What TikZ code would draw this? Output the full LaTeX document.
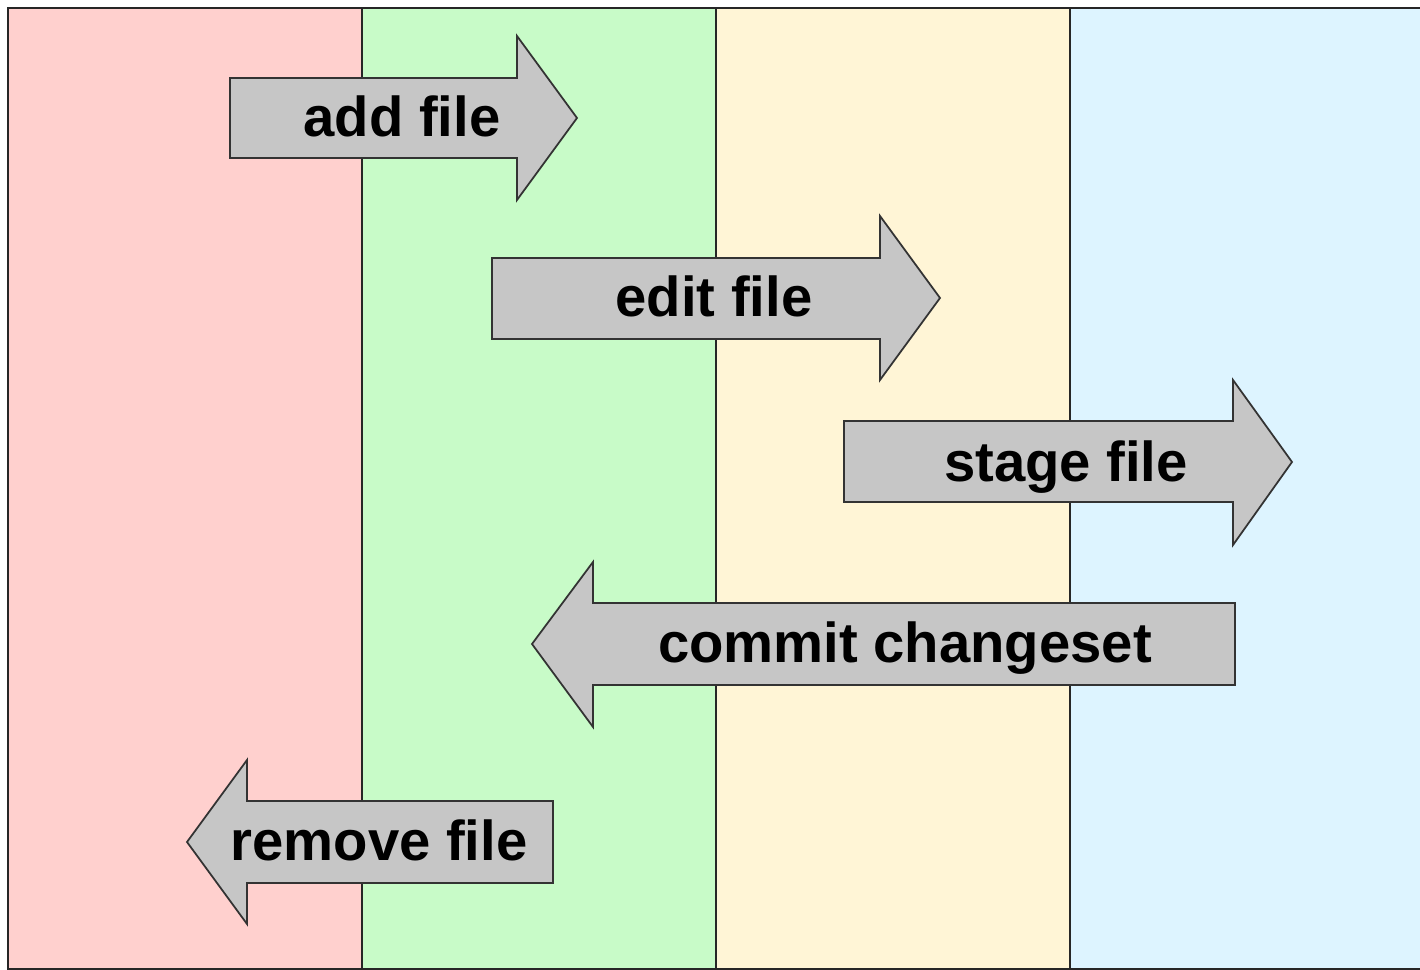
\documentclass[tikz,border=0pt]{standalone}
\usepackage{fontspec}
\setmainfont{Liberation Sans}
\usepackage{tikz}
\usetikzlibrary{positioning}

\definecolor{lanered}{HTML}{FFD0CE}
\definecolor{lanegreen}{HTML}{C8FBC8}
\definecolor{laneyellow}{HTML}{FFF5D6}
\definecolor{laneblue}{HTML}{DDF4FF}
\definecolor{arrowgray}{HTML}{C6C6C6}
\definecolor{edgegray}{HTML}{333333}

\tikzset{
  lane/.style={draw=black!85, line width=0.6pt},
  bigarrow/.style={draw=edgegray, line width=0.5pt, fill=arrowgray, line join=miter},
  arrowlabel/.style={font=\fontsize{16}{19}\selectfont\bfseries, inner sep=0pt, anchor=base}
}

\begin{document}
\begin{tikzpicture}
\useasboundingbox (0,0) rectangle (14.2,9.7);
\clip (0,0) rectangle (14.2,9.7);

% lanes
\draw[lane, fill=lanered] (0.08,0.01) rectangle (3.62,9.62);
\draw[lane, fill=lanegreen] (3.62,0.01) rectangle (7.16,9.62);
\draw[lane, fill=laneyellow] (7.16,0.01) rectangle (10.70,9.62);
\draw[lane, fill=laneblue] (10.70,0.01) rectangle (14.40,9.62);

% right-pointing arrows
\draw[bigarrow] (2.30,8.92) -- (5.17,8.92) -- (5.17,9.34) -- (5.77,8.52) -- (5.17,7.70) -- (5.17,8.12) -- (2.30,8.12) -- cycle;
\node[arrowlabel] (addfile) at (4.02,8.33) {add file};

\draw[bigarrow] (4.92,7.12) -- (8.80,7.12) -- (8.80,7.54) -- (9.40,6.72) -- (8.80,5.90) -- (8.80,6.31) -- (4.92,6.31) -- cycle;
\node[arrowlabel] (editfile) at (7.14,6.53) {edit file};

\draw[bigarrow] (8.44,5.49) -- (12.33,5.49) -- (12.33,5.90) -- (12.92,5.08) -- (12.33,4.25) -- (12.33,4.68) -- (8.44,4.68) -- cycle;
\node[arrowlabel] (stagefile) at (10.66,4.88) {stage file};

% left-pointing arrows
\draw[bigarrow] (12.35,3.67) -- (5.93,3.67) -- (5.93,4.08) -- (5.32,3.26) -- (5.93,2.43) -- (5.93,2.85) -- (12.35,2.85) -- cycle;
\node[arrowlabel] (commit) at (9.05,3.07) {commit changeset};

\draw[bigarrow] (5.53,1.69) -- (2.47,1.69) -- (2.47,2.10) -- (1.87,1.28) -- (2.47,0.46) -- (2.47,0.87) -- (5.53,0.87) -- cycle;
\node[arrowlabel] (removefile) at (3.79,1.09) {remove file};

\end{tikzpicture}
\end{document}
